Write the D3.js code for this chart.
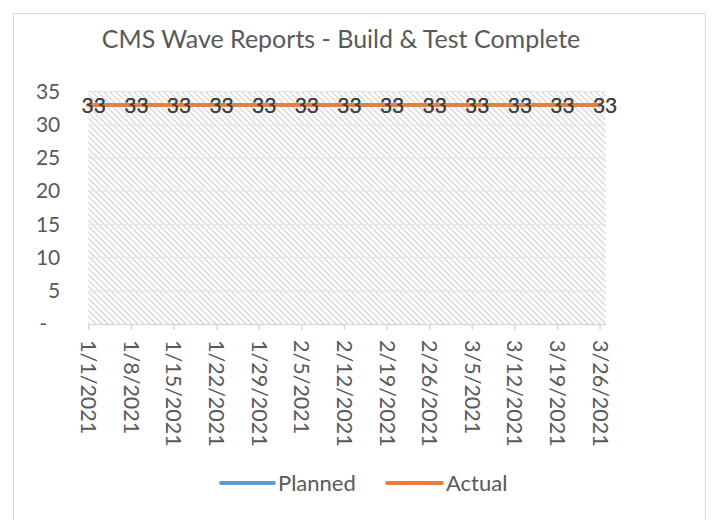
<!DOCTYPE html>
<html>
<head>
<meta charset="utf-8">
<script src="https://cdn.jsdelivr.net/npm/d3@7"></script>
<style>
  html, body { margin: 0; padding: 0; background: #fff; }
  svg { display: block; }
  text { font-family: Lato, "Open Sans", sans-serif; fill: #595959; }
</style>
</head>
<body>
<svg id="chart" width="714" height="520"></svg>
<script>
const title = "CMS Wave Reports - Build & Test Complete";
const dateLabels = ["1/1/2021","1/8/2021","1/15/2021","1/22/2021","1/29/2021","2/5/2021","2/12/2021","2/19/2021","2/26/2021","3/5/2021","3/12/2021","3/19/2021","3/26/2021"];
const planned = [33,33,33,33,33,33,33,33,33,33,33,33,33];
const actual  = [33,33,33,33,33,33,33,33,33,33,33,33,33];
const yTicks = [0,5,10,15,20,25,30,35];
const seriesNames = ["Planned","Actual"];
const seriesColors = ["#5B9BD5","#ED7D31"];

const parse = d3.timeParse("%m/%d/%Y");
const dates = dateLabels.map(parse);

const svg = d3.select("#chart");
const L = 88.3, R = 605.7, T = 91.7, B = 324;

// outer chart border
svg.append("rect").attr("x",13.5).attr("y",13.5).attr("width",692).attr("height",530)
  .attr("fill","#fff").attr("stroke","#d9d9d9").attr("stroke-width",1);

// hatch pattern
const defs = svg.append("defs");
const pat = defs.append("pattern").attr("id","hatch").attr("patternUnits","userSpaceOnUse")
  .attr("width",6).attr("height",6);
pat.append("rect").attr("width",6).attr("height",6).attr("fill","#fff");
pat.append("path").attr("d","M-1,-1L7,7M-1,5L1,7M5,-1L7,1").attr("stroke","#d9d9d9")
  .attr("stroke-width",1.4).attr("fill","none");

const x = d3.scaleTime().domain([dates[0], d3.timeDay.offset(dates[dates.length-1],1)]).range([L,R]);
const y = d3.scaleLinear().domain([0,35]).range([B,T]);

svg.append("rect").attr("x",L).attr("y",T).attr("width",R-L).attr("height",B-T).attr("fill","url(#hatch)");

// gridlines
svg.append("g").selectAll("line").data(yTicks.filter(d=>d>0)).join("line")
  .attr("x1",L).attr("x2",R).attr("y1",d=>y(d)).attr("y2",d=>y(d))
  .attr("stroke","#e6e6e6").attr("stroke-width",1.2);

// title
svg.append("text").attr("x",341).attr("y",48).attr("text-anchor","middle")
  .style("font-size","25px").text(title);

// y axis labels
const yAxis = d3.axisLeft(y).tickValues(yTicks).tickSize(0).tickPadding(0)
  .tickFormat(d => d===0 ? "-" : d);
const gy = svg.append("g").attr("transform",`translate(${L-28},0)`).call(yAxis);
gy.select(".domain").remove();
gy.selectAll("text").style("font-size","21px").attr("fill","#595959")
  .attr("font-family","Lato, sans-serif").attr("text-anchor","end")
  .attr("x", d => d===0 ? -13 : 0);

// x axis
const xAxis = d3.axisBottom(x).tickValues(dates).tickSize(6).tickFormat((d,i)=>dateLabels[i]);
const gx = svg.append("g").attr("transform",`translate(0,${B})`).call(xAxis);
gx.select(".domain").attr("stroke","#d9d9d9").attr("stroke-width",1.5).attr("d",`M${L},0.5H${R}`);
gx.selectAll(".tick line").attr("stroke","#d9d9d9").attr("stroke-width",1.5);
gx.selectAll("text").style("font-size","21.5px").attr("fill","#595959")
  .attr("font-family","Lato, sans-serif")
  .attr("text-anchor","start").attr("transform","rotate(90)")
  .attr("x",16).attr("y",0).attr("dy","0.35em").attr("dx",0);

// lines
const series = [planned, actual];
const line = d3.line().x((d,i)=>x(dates[i])).y(d=>y(d));
series.forEach((s,k)=>{
  svg.append("path").datum(s).attr("d",line).attr("fill","none")
    .attr("stroke",seriesColors[k]).attr("stroke-width",3.8).attr("stroke-linecap","round");
});
// data labels
series.forEach((s,k)=>{
  svg.append("g").selectAll("text").data(s).join("text")
    .attr("x",(d,i)=>x(dates[i])+5.5).attr("y",d=>y(d)).attr("dy","0.36em")
    .attr("text-anchor","middle").style("font-size","21px").style("fill","#404040").text(d=>d);
});

// legend
const leg = [{x1:221,x2:274,tx:278},{x1:387,x2:442,tx:446}];
seriesNames.forEach((n,k)=>{
  svg.append("line").attr("x1",leg[k].x1).attr("x2",leg[k].x2).attr("y1",483).attr("y2",483)
    .attr("stroke",seriesColors[k]).attr("stroke-width",3.8).attr("stroke-linecap","round");
  svg.append("text").attr("x",leg[k].tx).attr("y",483).attr("dy","0.36em")
    .style("font-size","22px").text(n);
});
</script>
</body>
</html>
